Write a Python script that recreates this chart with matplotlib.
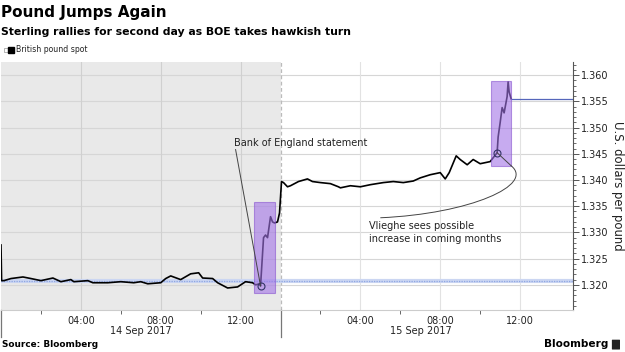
import matplotlib
matplotlib.use("Agg")
import matplotlib.pyplot as plt
import matplotlib.patches as patches
import matplotlib.path as mpath
import matplotlib.transforms as mtransforms
from matplotlib.ticker import FixedLocator, MultipleLocator, FuncFormatter

# 14 Sep session (hour of day, price)
hours_14 = [0.0, 0.03, 0.15, 0.5, 1.1, 1.5, 2.0, 2.6, 3.0, 3.5, 3.65, 4.35, 4.6, 5.35,
            6.0, 6.65, 7.0, 7.35, 8.0, 8.25, 8.5, 9.0, 9.5, 9.9, 10.1, 10.6, 10.85,
            11.35, 11.85, 12.25, 12.6, 12.75, 12.95, 13.0, 13.15, 13.25, 13.35, 13.5,
            13.6, 13.7, 13.85, 13.95]
price_14 = [1.3276, 1.3208, 1.3208, 1.3212, 1.3215, 1.3212, 1.3208, 1.3213, 1.3206,
            1.3210, 1.3206, 1.3208, 1.3204, 1.3204, 1.3206, 1.3204, 1.3206, 1.3202,
            1.3204, 1.3212, 1.3217, 1.3210, 1.3221, 1.3223, 1.3213, 1.3212, 1.3204,
            1.3194, 1.3196, 1.3206, 1.3204, 1.3200, 1.3202, 1.3198, 1.3290, 1.3295,
            1.3290, 1.3330, 1.3320, 1.3318, 1.3320, 1.3337]

# 15 Sep session
hours_15 = [0.05, 0.15, 0.35, 0.5, 0.9, 1.35, 1.6, 2.0, 2.5, 2.9, 3.0, 3.5, 4.0, 4.5,
            5.15, 5.65, 6.15, 6.65, 7.0, 7.5, 8.0, 8.25, 8.45, 8.8, 9.0, 9.35, 9.65,
            10.0, 10.5, 10.85, 10.9, 11.0, 11.1, 11.2, 11.35, 11.4, 11.45, 11.55]
price_15 = [1.3397, 1.3395, 1.3387, 1.3389, 1.3397, 1.3402, 1.3397, 1.3395, 1.3393,
            1.3387, 1.3385, 1.3389, 1.3387, 1.3391, 1.3395, 1.3397, 1.3395, 1.3398,
            1.3404, 1.3410, 1.3414, 1.3402, 1.3414, 1.3446, 1.3439, 1.3429, 1.3439,
            1.3431, 1.3435, 1.3452, 1.3482, 1.3509, 1.3538, 1.3528, 1.3559, 1.3587,
            1.3568, 1.3555]

last_price = 1.3555
prev_close = 1.3208
day_labels = ["14 Sep 2017", "15 Sep 2017"]
hour_labels = ["04:00", "08:00", "12:00"]
y_ticks = [1.320, 1.325, 1.330, 1.335, 1.340, 1.345, 1.350, 1.355, 1.360]

BREAK = 14.0  # 15 Sep session starts at this position on the axis
END = BREAK + 14.65

x14 = hours_14
x15 = [BREAK + h for h in hours_15]

fig = plt.figure(figsize=(6.25, 3.52), dpi=100)
ax = fig.add_axes([0.0016, 0.1193, 0.9152, 0.7046])
ax.set_xlim(0, END)
ax.set_ylim(1.3152, 1.3625)

# grey shade for previous day
ax.axvspan(0, BREAK, color="#e9e9e9", zorder=0, lw=0)

# grid
for y in y_ticks:
    ax.axhline(y, color="#d6d6d6", lw=0.8, zorder=1)
for h in [4, 8, 12]:
    ax.axvline(h, color="#d0d0d0", lw=0.8, zorder=1)
    ax.axvline(BREAK + h, color="#e2e2e2", lw=0.8, zorder=1)
ax.axvline(BREAK, color="#bbbbbb", lw=0.9, ls=(0, (3, 2)), zorder=1)

# previous close dotted band
ax.axhline(prev_close, color="#cbd6f2", lw=3, zorder=2)
ax.axhline(prev_close, color="#8ea6e2", lw=0.9, ls=(0, (1, 1)), zorder=2)

# price line
ax.plot(x14 + x15, price_14 + price_15, color="black", lw=1.2, zorder=3)
ax.plot([x15[-1], END], [last_price, last_price], color="#5566bb", lw=0.9, zorder=3)

# highlight boxes
box_color = "#a274e6"
for x0, x1, y0, y1 in [(12.65, 13.7, 1.31847, 1.33584),
                       (BREAK + 10.55, BREAK + 11.55, 1.34271, 1.35893)]:
    ax.add_patch(patches.Rectangle((x0, y0), x1 - x0, y1 - y0, facecolor=box_color,
                                   alpha=0.6, edgecolor="#8855d0", lw=0.8, zorder=4))

# event circles
ax.plot([13.0, BREAK + 10.85], [1.3198, 1.3452], "o", ms=5, mfc="none",
        mec="#333366", mew=0.8, zorder=5)

# annotations
ax.plot([11.75, 13.0], [1.3458, 1.3198], color="#444444", lw=0.7, zorder=5)
ax.text(11.65, 1.3471, "Bank of England statement", fontsize=7, va="center",
        ha="left", color="#222222", zorder=6)

ax.plot([BREAK + 10.85, BREAK + 11.55], [1.3452, 1.34271], color="#444444", lw=0.7, zorder=5)
curve = mpath.Path([(BREAK + 5.0, 1.33279), (BREAK + 9.5, 1.33355),
                    (BREAK + 12.75, 1.33908), (BREAK + 11.55, 1.34271)],
                   [mpath.Path.MOVETO, mpath.Path.CURVE4, mpath.Path.CURVE4,
                    mpath.Path.CURVE4])
ax.add_patch(patches.PathPatch(curve, fill=False, edgecolor="#444444", lw=0.7, zorder=5))
ax.text(BREAK + 4.45, 1.3322, "Vlieghe sees possible\nincrease in coming months",
        fontsize=7, va="top", ha="left", color="#222222", linespacing=1.35, zorder=6)

# axes styling
for s in ["top", "left"]:
    ax.spines[s].set_visible(False)
ax.spines["bottom"].set_color("#cccccc")
ax.spines["right"].set_color("#555555")
ax.spines["right"].set_linewidth(0.8)

ax.yaxis.tick_right()
ax.yaxis.set_label_position("right")
ax.set_yticks(y_ticks)
ax.yaxis.set_major_formatter(FuncFormatter(lambda v, p: f"{v:.3f}"))
ax.yaxis.set_minor_locator(MultipleLocator(0.001))
ax.tick_params(axis="y", which="major", length=4, width=0.7, colors="#555555",
               labelcolor="#222222", labelsize=7, pad=2)
ax.tick_params(axis="y", which="minor", length=2, width=0.6, colors="#555555")
ax.set_ylabel("U.S. dollars per pound", rotation=270, labelpad=11, fontsize=8.4,
              color="#222222")

major_x = [4, 8, 12, BREAK + 4, BREAK + 8, BREAK + 12]
ax.xaxis.set_major_locator(FixedLocator(major_x))
ax.set_xticklabels(hour_labels * 2)
ax.xaxis.set_minor_locator(FixedLocator([2, 6, 10, BREAK + 2, BREAK + 6, BREAK + 10]))
ax.tick_params(axis="x", which="major", length=0, labelsize=7, labelcolor="#222222", pad=4)
ax.tick_params(axis="x", which="minor", length=3, width=0.7, colors="#666666")

trans = mtransforms.blended_transform_factory(ax.transData, ax.transAxes)
for xd in [0.02, BREAK]:
    ax.plot([xd, xd], [0, -0.11], color="#777777", lw=0.9, transform=trans, clip_on=False)
ax.text(7.0, -0.085, day_labels[0], transform=trans, ha="center", va="center",
        fontsize=7, color="#222222")
ax.text(BREAK + 7.05, -0.085, day_labels[1], transform=trans, ha="center", va="center",
        fontsize=7, color="#222222")

# titles and texts
fig.text(0.002, 0.965, "Pound Jumps Again", fontsize=11, fontweight="bold", va="center")
fig.text(0.002, 0.91, "Sterling rallies for second day as BOE takes hawkish turn",
         fontsize=7.85, fontweight="bold", va="center")
fig.add_artist(plt.Line2D([0.010], [0.858], marker="s", ms=2.5, mfc="white",
                          mec="#999999", mew=0.5, transform=fig.transFigure))
fig.add_artist(plt.Line2D([0.018], [0.858], marker="s", ms=4, color="black",
                          transform=fig.transFigure))
fig.text(0.025, 0.858, "British pound spot", fontsize=5.6, va="center", color="#222222")
fig.text(0.004, 0.02, "Source: Bloomberg", fontsize=6.4, fontweight="bold", va="center")
fig.text(0.973, 0.022, "Bloomberg", fontsize=7.6, fontweight="bold", va="center", ha="right")
fig.add_artist(patches.FancyBboxPatch((0.980, 0.008), 0.011, 0.026,
                                      boxstyle="round,pad=0.001", fc="#222222", ec="none",
                                      transform=fig.transFigure))

fig.savefig("out.png", dpi=100)
